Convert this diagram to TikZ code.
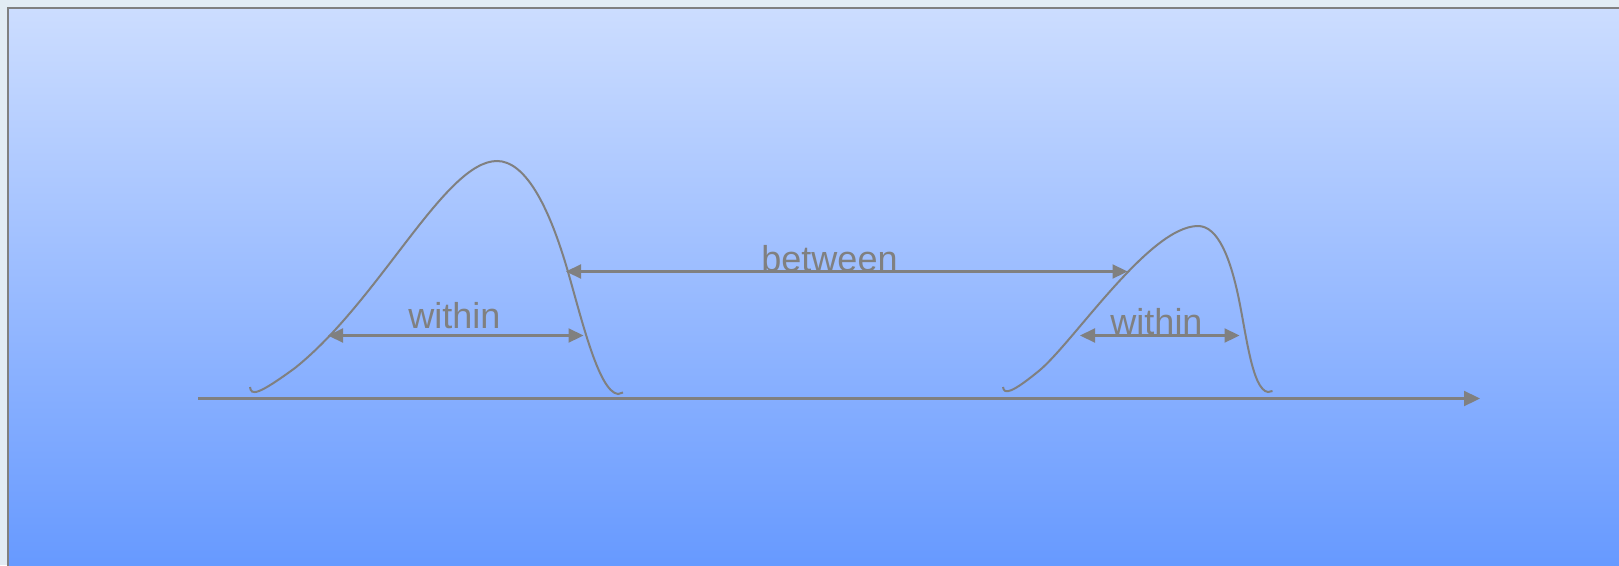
\documentclass[tikz,border=0pt]{standalone}
\usepackage{fontspec}
\setmainfont{Liberation Sans}
\usetikzlibrary{arrows.meta}
\definecolor{linegray}{HTML}{808080}
\definecolor{paneltop}{HTML}{CCDDFF}
\definecolor{panelbottom}{HTML}{6699FF}
\definecolor{outerbg}{HTML}{E2ECF4}

\begin{document}
\begin{tikzpicture}[x=1pt, y=-1pt,
  curve/.style={draw=linegray, line width=2pt},
  arr/.style={{Triangle[length=15pt,width=14pt]}-{Triangle[length=15pt,width=14pt]},
              draw=linegray, line width=2.2pt},
  axis/.style={-{Triangle[length=16pt,width=15pt]}, draw=linegray, line width=2.2pt},
  lbl/.style={text=linegray, font=\fontsize{36}{40}\selectfont, anchor=base, inner sep=0pt}
]
  \useasboundingbox (0,0) rectangle (1619,565);
  \fill[outerbg] (0,0) rectangle (1619,565);
  \shade[top color=paneltop, bottom color=panelbottom, draw=linegray, line width=2.5pt]
    (8,8) rectangle (1630,570);

  \draw[curve] (250,387) .. controls (251,396) and (258,395) .. (295,368)
    .. controls (380,300) and (445,161) .. (497,161)
    .. controls (525,161) and (548,205) .. (566,265)
    .. controls (580,312) and (598,392) .. (618,394) -- (623,392.5);
  \draw[curve] (1003,387) .. controls (1004,395) and (1012,393) .. (1040,370)
    .. controls (1075,340) and (1150,226) .. (1198,226)
    .. controls (1218,226) and (1230,258) .. (1238,295)
    .. controls (1246,332) and (1252,390) .. (1268,392) -- (1272.5,391);

  \coordinate (axisstart) at (198,398.5);
  \coordinate (axisend) at (1480,398.5);
  \coordinate (w1left) at (328,335.5);
  \coordinate (w1right) at (583.5,335.5);
  \coordinate (btleft) at (566,271.5);
  \coordinate (btright) at (1127.5,271.5);
  \coordinate (w2left) at (1080,335.5);
  \coordinate (w2right) at (1239.5,335.5);

  \draw[axis] (axisstart) -- (axisend);
  \draw[arr] (w1left) -- (w1right);
  \draw[arr] (btleft) -- (btright);
  \draw[arr] (w2left) -- (w2right);

  \node[lbl] (w1label) at (454.5,328) {within};
  \node[lbl] (btlabel) at (829.5,271) {between};
  \node[lbl] (w2label) at (1156.5,334) {within};
\end{tikzpicture}
\end{document}
